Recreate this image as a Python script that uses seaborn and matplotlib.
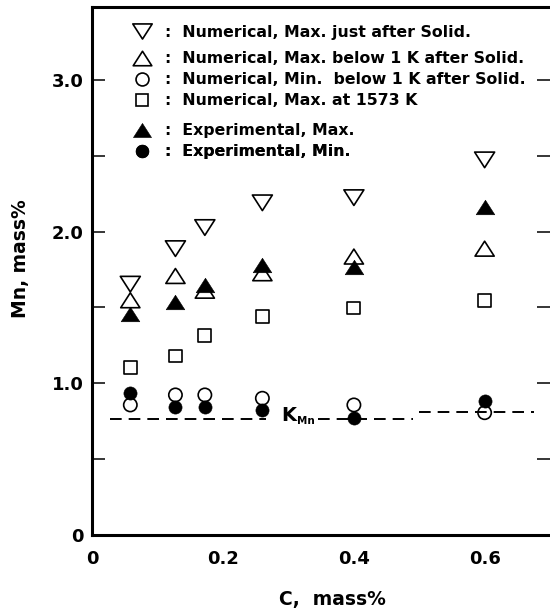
import numpy as np
import pandas as pd
import matplotlib
matplotlib.use("Agg")
import matplotlib.pyplot as plt
from matplotlib.path import Path
from matplotlib.lines import Line2D
import seaborn as sns

# ---- data -------------------------------------------------------------
carbon = [0.058, 0.127, 0.172, 0.260, 0.400, 0.600]          # C, mass%

num_max_just_after = [1.653, 1.887, 2.026, 2.189, 2.223, 2.472]
num_max_below_1k   = [1.547, 1.707, 1.610, 1.725, 1.835, 1.887]
num_min_below_1k   = [0.857, 0.923, 0.923, 0.901, 0.857, 0.806]
num_max_1573k      = [1.105, 1.180, 1.312, 1.439, 1.496, 1.543]
exp_max            = [1.457, 1.536, 1.646, 1.778, 1.765, 2.162]
exp_min            = [0.938, 0.846, 0.846, 0.824, 0.769, 0.883]

# equilibrium partition level K_Mn (dashed), broken where the label sits
kmn_low_x  = [0.027, 0.265, np.nan, 0.345, 0.490]
kmn_low    = 0.763
kmn_high_x = [0.500, 0.675]
kmn_high   = 0.809

x_ticks = [0.1 * i for i in range(8)]
x_tick_labels = ["0", "", "0.2", "", "0.4", "", "0.6", ""]
y_ticks = [0.5 * i for i in range(7)]
y_tick_labels = ["0", "", "1.0", "", "2.0", "", "3.0"]

labels = [
    "Numerical, Max. just after Solid.",
    "Numerical, Max. below 1 K after Solid.",
    "Numerical, Min.  below 1 K after Solid.",
    "Numerical, Max. at 1573 K",
    "Experimental, Max.",
    "Experimental, Min.",
]

# ---- marker shapes ----------------------------------------------------
tri_down = Path([(-1, 0.78), (1, 0.78), (0, -0.78), (-1, 0.78)],
                [Path.MOVETO, Path.LINETO, Path.LINETO, Path.CLOSEPOLY])
tri_up = Path([(-1, -0.78), (1, -0.78), (0, 0.78), (-1, -0.78)],
              [Path.MOVETO, Path.LINETO, Path.LINETO, Path.CLOSEPOLY])

# (values, marker, filled, size in pt^2)
styles = [
    (num_max_just_after, tri_down, False, 207),
    (num_max_below_1k,   tri_up,   False, 190),
    (num_min_below_1k,   "o",      False, 92),
    (num_max_1573k,      "s",      False, 85),
    (exp_max,            tri_up,   True,  180),
    (exp_min,            "o",      True,  90),
]

frames = []
for lab, (vals, _, _, _) in zip(labels, styles):
    frames.append(pd.DataFrame({"C": carbon, "Mn": vals, "series": lab}))
df = pd.concat(frames, ignore_index=True)

# ---- figure -----------------------------------------------------------
sns.set_style("white")
plt.rcParams["font.family"] = ["DejaVu Sans"]
plt.rcParams["font.weight"] = "bold"
plt.rcParams["text.color"] = "black"
plt.rcParams["axes.labelcolor"] = "black"
plt.rcParams["xtick.color"] = "black"
plt.rcParams["ytick.color"] = "black"

fig = plt.figure(figsize=(5.5, 6.14), dpi=100)
ax = fig.add_axes([0.168, 0.1287, 0.832, 0.860])

ax.plot(kmn_low_x, [kmn_low] * len(kmn_low_x), color="black", lw=1.4,
        dashes=(6, 3.6), zorder=1)
ax.plot(kmn_high_x, [kmn_high] * len(kmn_high_x), color="black", lw=1.4,
        dashes=(6, 3.6), zorder=1)
ax.text(0.289, 0.788, "K", fontsize=14, fontweight="bold",
        ha="left", va="center", color="black")
ax.text(0.3135, 0.748, "Mn", fontsize=7.5, fontweight="bold",
        ha="left", va="center", color="black")

lw_open = 1.2
for lab, (vals, mk, filled, s) in zip(labels, styles):
    sub = df[df["series"] == lab]
    if filled:
        sns.scatterplot(data=sub, x="C", y="Mn", ax=ax, marker=mk, s=s,
                        color="black", edgecolor="black", linewidth=0.4,
                        zorder=3, legend=False)
    else:
        sns.scatterplot(data=sub, x="C", y="Mn", ax=ax, marker=mk, s=s,
                        facecolor="none", edgecolor="black",
                        linewidth=lw_open, zorder=2, legend=False)

# key: one row per series
row_y = [0.9517, 0.9015, 0.8617, 0.8220, 0.7652, 0.7254]
for lab, (vals, mk, filled, s), yy in zip(labels, styles, row_y):
    h = Line2D([], [], ls="none", marker=mk, markersize=np.sqrt(s) * 0.97,
               markerfacecolor="black" if filled else "none",
               markeredgecolor="black",
               markeredgewidth=0.4 if filled else lw_open)
    leg = ax.legend(handles=[h], labels=[":  " + lab], loc="center left",
                    bbox_to_anchor=(0.080, yy), frameon=False, borderpad=0,
                    borderaxespad=0, handlelength=1.6, handletextpad=0.72,
                    labelcolor="black",
                    prop={"size": 11.3, "weight": "bold"})
    ax.add_artist(leg)

# ---- axes -------------------------------------------------------------
ax.set_xlim(0, 0.7)
ax.set_ylim(0, 3.48)
ax.set_xticks(x_ticks)
ax.set_xticklabels(x_tick_labels)
ax.set_yticks(y_ticks)
ax.set_yticklabels(y_tick_labels)
ax.tick_params(axis="both", direction="in", length=9.5, width=1.1,
               labelsize=13, colors="black")
ax.tick_params(axis="x", pad=11)
ax.tick_params(axis="y", pad=6.5, right=True, left=True)
for t in ax.get_xticklabels() + ax.get_yticklabels():
    t.set_fontweight("bold")

for side in ("left", "bottom", "top"):
    ax.spines[side].set_linewidth(2.2)
    ax.spines[side].set_color("black")
ax.spines["right"].set_visible(False)

ax.set_xlabel("C,  mass%", fontsize=13.5, fontweight="bold", color="black")
ax.set_ylabel("Mn, mass%", fontsize=13.5, fontweight="bold", color="black")
ax.xaxis.set_label_coords(0.5235, -0.123)
ax.xaxis.label.set_va("center")
ax.yaxis.set_label_coords(-0.158, 0.523)
ax.yaxis.label.set_va("center")

fig.savefig("out.png", dpi=100)
